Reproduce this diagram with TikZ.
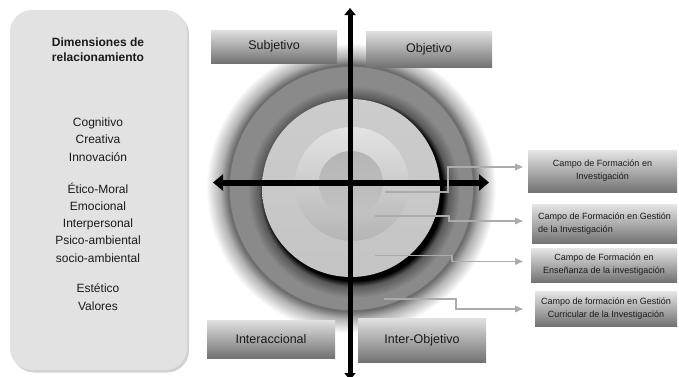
\documentclass[tikz,border=0pt]{standalone}
\usepackage{fontspec}
\setmainfont{Liberation Sans}
\usetikzlibrary{arrows.meta,shadows}
\definecolor{ringc}{HTML}{8A8A8A}
\definecolor{txt}{HTML}{1A1A1A}
\definecolor{panelc}{HTML}{E2E2E2}
\pgfdeclareradialshading{halo}{\pgfpoint{0bp}{0bp}}{color(0bp)=(ringc); color(20.9bp)=(ringc); color(21.1bp)=(black!60); color(22.6bp)=(black!30); color(25bp)=(white); color(50bp)=(white)}
\pgfdeclareradialshading{innershadow}{\pgfpoint{0bp}{0bp}}{color(0bp)=(black); color(20.9bp)=(black); color(22.3bp)=(black!65); color(25bp)=(ringc); color(50bp)=(ringc)}
\tikzset{
  panel/.style={draw=none, fill=panelc, rounded corners=22pt, minimum width=177pt, minimum height=360pt,
    drop shadow={opacity=0.35, shadow xshift=2pt, shadow yshift=-2.5pt}},
  ltext/.style={text=txt, align=center, inner sep=0pt, font=\fontsize{12}{17.3}\selectfont},
  ttext/.style={text=txt, align=center, inner sep=0pt, font=\fontsize{12}{15}\selectfont\bfseries},
  quad/.style={draw=none, top color=black!12, bottom color=black!55, text=txt,
    font=\fontsize{12.5}{14}\selectfont, inner sep=0pt},
  camp/.style={draw=none, top color=black!10, bottom color=black!55, text=txt,
    font=\fontsize{9}{13}\selectfont, inner sep=0pt},
  vax/.style={line width=5pt, {Triangle[length=7pt,width=11pt]}-{Triangle[length=7pt,width=11pt]}},
  hax/.style={line width=6pt, {Triangle[length=10pt,width=16pt]}-{Triangle[length=10pt,width=16pt]}},
  conn/.style={draw=black!33, line width=1.3pt, -{Triangle[length=8pt,width=6.5pt]}},
}
\begin{document}
\begin{tikzpicture}[x=1pt,y=-1pt]
\useasboundingbox (0,0) rectangle (679,376);
\fill[white] (0,0) rectangle (679,376);

% left panel
\node[panel] (dim) at (98.5,190) {};
\node[ttext] (tit) at (98,49.5) {Dimensiones de\\relacionamiento};
\node[ltext] (g1) at (98,139.5) {Cognitivo\\Creativa\\Innovación};
\node[ltext] (g2) at (98,222.5) {Ético-Moral\\Emocional\\Interpersonal\\Psico-ambiental\\socio-ambiental};
\node[ltext] (g3) at (98,297) {Estético\\Valores};

% rings
\shade[shading=halo] (351,188) circle (145pt);
\fill[ringc] (351,188) circle (121pt);
\shade[shading=innershadow] (354,192) circle (106pt);
\shade[top color=black!20, bottom color=black!23] (351,188) circle (89pt);
\shade[top color=black!11, bottom color=black!29] (352,184) circle (57pt);
\shade[top color=black!29, bottom color=black!24] (351,183) circle (32pt);

% quadrant boxes
\node[quad, minimum width=126pt, minimum height=33pt] (q1) at (274,46.5) {Subjetivo};
\node[quad, minimum width=126pt, minimum height=36pt] (q2) at (429,49) {Objetivo};
\node[quad, minimum width=128pt, minimum height=38pt] (q3) at (271,339) {Interaccional};
\node[quad, minimum width=128pt, minimum height=44pt] (q4) at (422,340) {Inter-Objetivo};

% right boxes
\node[camp, minimum width=149pt, minimum height=42pt, align=center] (c1) at (602.5,171) {Campo de Formación en\\Investigación};
\node[camp, minimum width=145pt, minimum height=39pt, align=left] (c2) at (604.5,223.5) {Campo de Formación en Gestión\\de la Investigación};
\node[camp, minimum width=146pt, minimum height=34pt, align=center] (c3) at (604,265) {Campo de Formación en\\Enseñanza de la investigación};
\node[camp, minimum width=142pt, minimum height=35pt, align=center] (c4) at (606,308.5) {Campo de formación en Gestión\\Curricular de la Investigación};

% axes
\coordinate (vt) at (350,8);
\coordinate (vb) at (350,380);
\coordinate (hl) at (213,182.5);
\coordinate (hr) at (489,182.5);
\draw[vax] (vt) -- (vb);
\draw[hax] (hl) -- (hr);

% connectors
\coordinate (s1) at (385,192); \coordinate (k1) at (448,167); \coordinate (e1) at (523,167);
\coordinate (s2) at (375,216); \coordinate (k2) at (449,221); \coordinate (e2) at (523,221);
\coordinate (s3) at (375,255.5); \coordinate (k3) at (452,261.5); \coordinate (e3) at (523,261.5);
\coordinate (s4) at (384,299); \coordinate (k4) at (456,309); \coordinate (e4) at (523,309);
\draw[conn] (s1) -| (k1) -- (e1);
\draw[conn] (s2) -| (k2) -- (e2);
\draw[conn] (s3) -| (k3) -- (e3);
\draw[conn] (s4) -| (k4) -- (e4);
\end{tikzpicture}
\end{document}
